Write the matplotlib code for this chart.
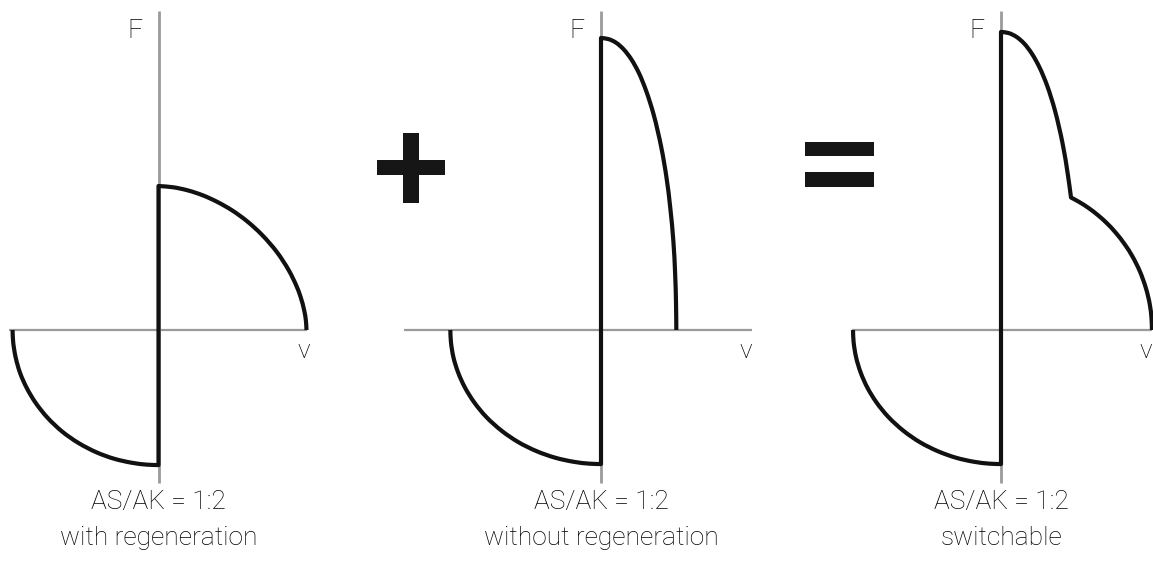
import matplotlib
matplotlib.use("Agg")
import matplotlib.pyplot as plt
from matplotlib.patches import Rectangle, PathPatch
from matplotlib.path import Path

# ---------------- data (v and F in relative units) ----------------
# Panel 1: with regeneration
p1_upper_v = [0, 10, 20, 30, 40, 50, 60, 70, 80, 88, 93, 96, 98.5, 99.6, 100]
p1_upper_F = [100, 99.1, 96.9, 93.5, 88.8, 82.9, 75.4, 66.0, 54.1, 41.5, 31.1, 23.0, 13.4, 6.4, 0]
p1_lower_v = [-98.6, -98.2, -96.5, -93.5, -89.0, -83.0, -75.0, -65.0, -54.0, -42.0, -30.0, -18.0, -8.0, 0]
p1_lower_F = [0, -8.4, -19.1, -29.9, -40.3, -50.6, -60.9, -70.6, -78.5, -84.9, -89.4, -92.2, -93.5, -93.8]

# Panel 2: without regeneration
p2_upper_v = [0, 5.1, 10.2, 15.3, 20.4, 25.5, 30.5, 35.6, 40.7, 44.3, 46.8, 48.9, 50.1, 50.7, 50.9]
p2_upper_F = [202.8, 202.0, 199.5, 194.9, 188.1, 178.7, 166.1, 149.5, 127.0, 105.5, 84.9, 61.7, 38.9, 18.1, 0]
p2_lower_v = [-101.8, -101.4, -99.7, -96.5, -91.9, -85.7, -77.5, -67.1, -55.8, -43.4, -30.9, -18.6, -8.2, 0]
p2_lower_F = [0, -8.3, -19.0, -29.6, -40.0, -50.2, -60.4, -70.0, -77.9, -84.2, -88.7, -91.5, -92.8, -93.1]

# Panel 3: switchable (upper curve has a kink where the two modes meet)
p3_upper_a_v = [0, 5.2, 10.4, 15.6, 20.8, 26.0, 31.2, 36.4, 41.6, 45.2, 47.3]
p3_upper_a_F = [207, 206.2, 203.6, 199.0, 192.0, 182.4, 169.6, 152.6, 129.6, 107.7, 92]
p3_upper_b_v = [47.3, 53.0, 59.2, 65.3, 71.4, 77.5, 83.6, 88.7, 93.8, 97.9, 100.5, 101.7, 102]
p3_upper_b_F = [92, 88.8, 84.7, 79.9, 74.3, 67.6, 59.5, 51.3, 40.8, 29.1, 18.0, 8.0, 0]
p3_lower_v = [-100, -99.6, -97.9, -94.8, -90.3, -84.2, -76.1, -65.9, -54.8, -42.6, -30.4, -18.3, -8.1, 0]
p3_lower_F = [0, -8.3, -19.0, -29.6, -40.0, -50.2, -60.4, -70.0, -77.9, -84.2, -88.7, -91.5, -92.8, -93.1]

# axis extents per panel (relative units)
v_axis_ranges = [(-101, 100), (-133, 102), (-101, 102)]
F_axis_range = (-106, 221.5)

axis_label_v = "v"
axis_label_F = "F"
line1_labels = ["AS/AK = 1:2", "AS/AK = 1:2", "AS/AK = 1:2"]
line2_labels = ["with regeneration", "without regeneration", "switchable"]

# each panel: list of smooth segments, joined by straight lines (corners)
panels = [
    [(p1_lower_v, p1_lower_F), (p1_upper_v, p1_upper_F)],
    [(p2_lower_v, p2_lower_F), (p2_upper_v, p2_upper_F)],
    [(p3_lower_v, p3_lower_F), (p3_upper_a_v, p3_upper_a_F),
     (p3_upper_b_v, p3_upper_b_F)],
]

# ---------------- layout ----------------
W, H = 1153, 561
DPI = 100
SX, SY = 1.48, 1.44          # pixels per unit in v and F
origins_px = [158.5, 601.0, 1001.0]
origin_y_px = 330.0
slices_px = [(0, 380), (380, 790), (790, 1153)]

FONT = ["Roboto", "DejaVu Sans"]
plt.rcParams["font.family"] = FONT

fig = plt.figure(figsize=(W / DPI, H / DPI), dpi=DPI)
fig.patch.set_facecolor("white")

curve_color = "#111111"
axis_color = "#9a9a9a"
text_color = "#000000"


def _dist(a, b, alpha=0.5):
    d = ((a[0] - b[0]) ** 2 + (a[1] - b[1]) ** 2) ** 0.5
    return max(d, 1e-6) ** alpha


def smooth_path(segments):
    """Path through the read points: each segment rendered as a centripetal
    Catmull-Rom curve (as cubic Beziers); segments joined by straight lines."""
    verts, codes = [], []
    for k, (xs, ys) in enumerate(segments):
        pts = [(float(x), float(y)) for x, y in zip(xs, ys)]
        verts.append(pts[0])
        codes.append(Path.MOVETO if k == 0 else Path.LINETO)
        n = len(pts)
        for j in range(n - 1):
            p1, p2 = pts[j], pts[j + 1]
            p0 = pts[j - 1] if j > 0 else (2 * p1[0] - p2[0], 2 * p1[1] - p2[1])
            p3 = pts[j + 2] if j + 2 < n else (2 * p2[0] - p1[0], 2 * p2[1] - p1[1])
            d1, d2, d3 = _dist(p0, p1), _dist(p1, p2), _dist(p2, p3)
            c1 = tuple((d1 * d1 * p2[c] - d2 * d2 * p0[c]
                        + (2 * d1 * d1 + 3 * d1 * d2 + d2 * d2) * p1[c])
                       / (3 * d1 * (d1 + d2)) for c in range(2))
            c2 = tuple((d3 * d3 * p1[c] - d2 * d2 * p3[c]
                        + (2 * d3 * d3 + 3 * d3 * d2 + d2 * d2) * p2[c])
                       / (3 * d3 * (d3 + d2)) for c in range(2))
            verts += [c1, c2, p2]
            codes += [Path.CURVE4] * 3
    return Path(verts, codes)


for i, segs in enumerate(panels):
    x0, x1 = slices_px[i]
    ox = origins_px[i]
    ax = fig.add_axes([x0 / W, 0, (x1 - x0) / W, 1])
    ax.set_xlim((x0 - ox) / SX, (x1 - ox) / SX)
    ax.set_ylim(-(H - origin_y_px) / SY, origin_y_px / SY)
    ax.axis("off")
    ax.patch.set_alpha(0)

    vmin, vmax = v_axis_ranges[i]
    ax.plot([vmin, vmax], [0, 0], color=axis_color, lw=1.6, clip_on=False,
            solid_capstyle="butt", zorder=1)
    ax.plot([0, 0], list(F_axis_range), color=axis_color, lw=2.0, clip_on=False,
            solid_capstyle="butt", zorder=1)

    patch = PathPatch(smooth_path(segs), facecolor="none", edgecolor=curve_color,
                      lw=3.0, joinstyle="round", capstyle="butt", zorder=3,
                      clip_on=False)
    ax.add_patch(patch)

    ax.text(-16, 202.8, axis_label_F, ha="center", va="baseline",
            fontsize=19, fontweight="light", color=text_color)
    ax.text(98, -19.5, axis_label_v, ha="center", va="baseline",
            fontsize=19, fontweight="light", color=text_color, clip_on=False)

    ax.text(0, -(509 - origin_y_px) / SY, line1_labels[i], ha="center",
            va="baseline", fontsize=19, fontweight="light", color=text_color)
    ax.text(0, -(545 - origin_y_px) / SY, line2_labels[i], ha="center",
            va="baseline", fontsize=19, fontweight="light", color=text_color)

# operator symbols (+ and =), drawn in pixel-based figure coordinates
def rect_px(x, y, w, h):
    return Rectangle((x / W, 1 - (y + h) / H), w / W, h / H,
                     transform=fig.transFigure, facecolor="#161616",
                     edgecolor="none")

fig.add_artist(rect_px(377, 160, 68, 15))
fig.add_artist(rect_px(403, 133, 16, 70))
fig.add_artist(rect_px(805, 142, 69, 14))
fig.add_artist(rect_px(805, 172, 69, 15))

fig.savefig("out.png", dpi=DPI, facecolor="white")
